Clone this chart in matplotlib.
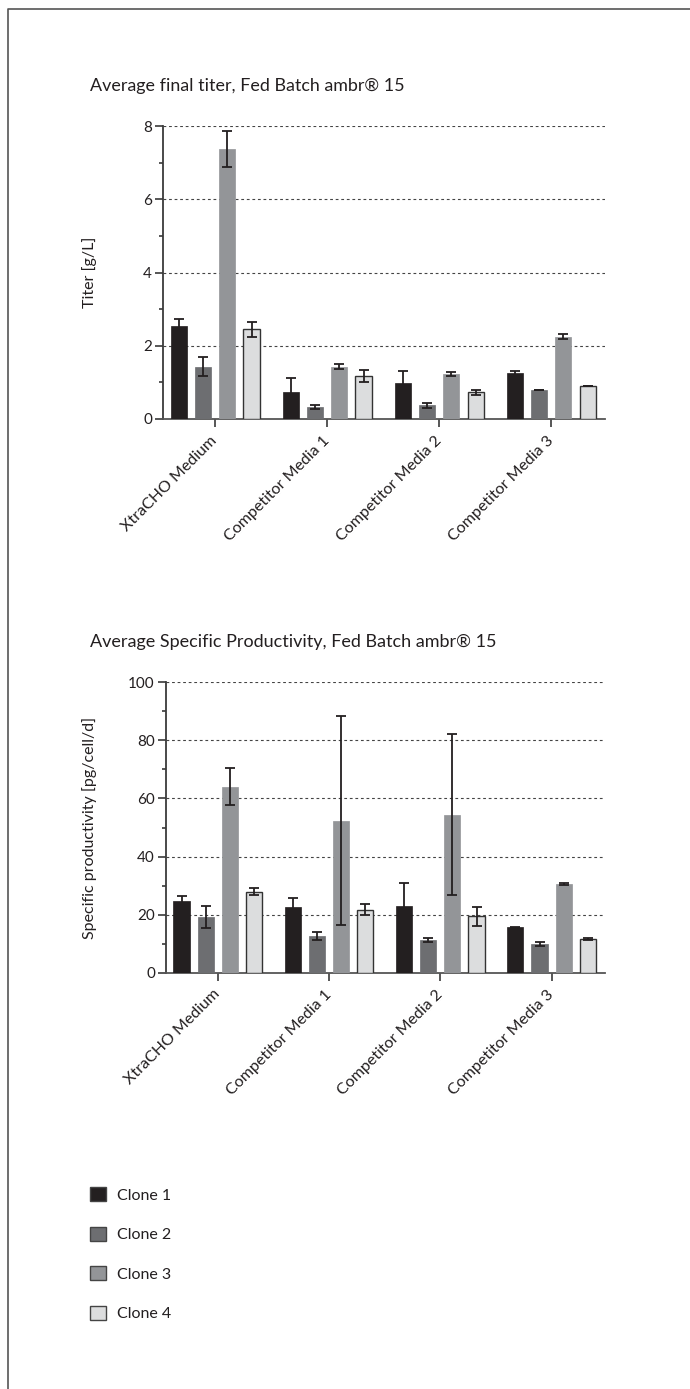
import numpy as np
import matplotlib
matplotlib.use('Agg')
import matplotlib.pyplot as plt
from matplotlib.patches import Patch
from matplotlib.lines import Line2D

plt.rcParams['font.family'] = ['Lato', 'DejaVu Sans']

# Data
media = ['XtraCHO Medium', 'Competitor Media 1', 'Competitor Media 2', 'Competitor Media 3']
clones = ['Clone 1', 'Clone 2', 'Clone 3', 'Clone 4']
colors = ['#231f20', '#6d6e71', '#939598', '#dcddde']

titer = [
    [2.55, 0.75, 0.99, 1.25],   # Clone 1
    [1.43, 0.33, 0.37, 0.79],   # Clone 2
    [7.37, 1.43, 1.23, 2.25],   # Clone 3
    [2.45, 1.18, 0.73, 0.89],   # Clone 4
]
titer_err = [
    [0.17, 0.38, 0.33, 0.06],
    [0.26, 0.06, 0.06, 0.0],
    [0.50, 0.07, 0.06, 0.07],
    [0.21, 0.17, 0.07, 0.0],
]

prod = [
    [24.8, 22.7, 23.1, 15.6],
    [19.2, 12.7, 11.3, 9.9],
    [64.1, 52.3, 54.4, 30.5],
    [27.9, 21.6, 19.4, 11.5],
]
prod_err = [
    [1.6, 3.0, 7.8, 0.2],
    [3.7, 1.4, 0.7, 0.8],
    [6.3, 36.0, 27.8, 0.4],
    [1.1, 1.9, 3.3, 0.3],
]

W, H = 690, 1389
fig = plt.figure(figsize=(W / 100, H / 100), dpi=100)

axis_col = '#3a3a3a'
text_col = '#231f20'


def draw_panel(rect, values, errors, ymax, major, minor, ylabel, title, title_y, title_size):
    ax = fig.add_axes(rect)
    x = np.arange(len(media))
    step = 0.217
    width = 0.145
    for i in range(len(clones)):
        edge = '#333333' if i == 3 else colors[i]
        ax.bar(x + (i - 1.5) * step, values[i], width, color=colors[i],
               edgecolor=edge, linewidth=1.0 if i == 3 else 0.5,
               yerr=errors[i], capsize=3.3,
               error_kw=dict(ecolor=text_col, elinewidth=1.3, capthick=1.3),
               zorder=3)
    ax.set_xlim(-0.465, 3.48)
    ax.set_ylim(0, ymax)
    ax.set_yticks(major)
    ax.set_yticks(minor, minor=True)
    for v in major[1:]:
        ax.axhline(v, color='#444444', linestyle=(0, (2.5, 2.5)), linewidth=0.8, zorder=1)
    for s in ['top', 'right']:
        ax.spines[s].set_visible(False)
    ax.spines['left'].set_color(axis_col)
    ax.spines['bottom'].set_color('#555555')
    ax.spines['left'].set_linewidth(1.3)
    ax.spines['bottom'].set_linewidth(1.3)
    ax.tick_params(axis='y', which='major', length=6, width=1.2, color=axis_col,
                   labelsize=11, labelcolor=text_col, pad=2)
    ax.tick_params(axis='y', which='minor', length=3, width=1.2, color=axis_col)
    ax.tick_params(axis='x', length=6, width=1.2, color=axis_col, pad=8)
    ax.set_xticks(x)
    ax.set_xticklabels(media, rotation=45, ha='right', va='center',
                       rotation_mode='anchor', fontsize=11.5, color=text_col)
    for lbl in ax.get_xticklabels():
        lbl.set_x(lbl.get_position()[0])
    ax.set_ylabel(ylabel, fontsize=11.5, color=text_col)
    ax.yaxis.set_label_coords((97 - rect[0] * W) / (rect[2] * W), 0.5)
    fig.text(90 / W, 1 - title_y / H, title, fontsize=title_size, color=text_col,
             ha='left', va='center')
    return ax


draw_panel([163 / W, 1 - 419 / H, 442 / W, 293 / H], titer, titer_err, 8,
           [0, 2, 4, 6, 8], [1, 3, 5, 7], 'Titer [g/L]',
           'Average final titer, Fed Batch ambr® 15', 86, 12.9)

draw_panel([166 / W, 1 - 972.7 / H, 439 / W, 290.4 / H], prod, prod_err, 100,
           [0, 20, 40, 60, 80, 100], [10, 30, 50, 70, 90],
           'Specific productivity [pg/cell/d]',
           'Average Specific Productivity, Fed Batch ambr® 15', 642, 13)

# Legend
handles = [Patch(facecolor=c, edgecolor='#444444', linewidth=1.0) for c in colors]
fig.legend(handles, clones, loc='upper left', bbox_to_anchor=(90 / W, 1 - 1187 / H),
           frameon=False, fontsize=11.5, handlelength=1.0, handleheight=1.0,
           handletextpad=0.7, labelspacing=1.5, borderpad=0, borderaxespad=0,
           labelcolor=text_col)

# Page frame (left and top edges)
fig.add_artist(Line2D([8 / W, 8 / W, 1.0], [0.0, 1 - 9 / H, 1 - 9 / H],
                      color='#555555', linewidth=1.2))

fig.savefig('out.png', dpi=100)
